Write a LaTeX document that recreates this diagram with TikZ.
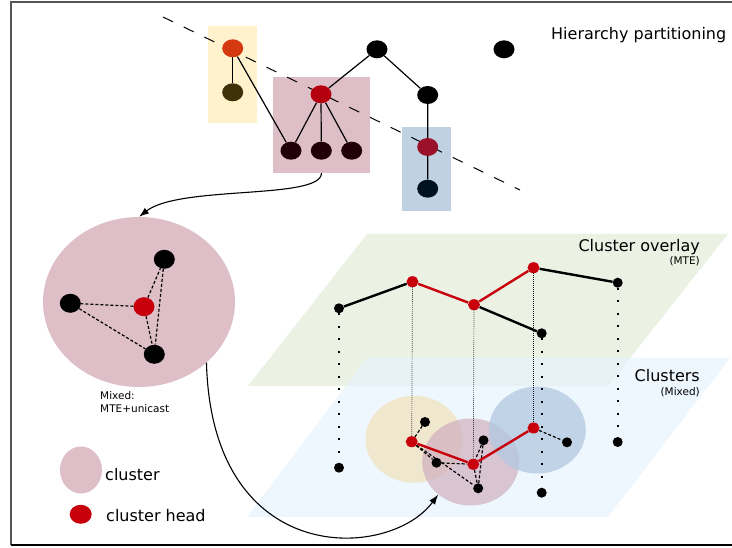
\documentclass[tikz,border=0pt]{standalone}
\usepackage{fontspec}
\setmainfont{DejaVu Sans}
\usetikzlibrary{shapes.geometric,arrows.meta}
\definecolor{ylwbox}{HTML}{FFF2CC}
\definecolor{pinkcl}{HTML}{DEBFC8}
\definecolor{bluebox}{HTML}{C0D2E2}
\definecolor{greenpl}{HTML}{EBF1E3}
\definecolor{bluepl}{HTML}{E8F3FD}
\definecolor{ylwcl}{HTML}{F0E2BE}
\definecolor{pinkcl2}{HTML}{D2B3C2}
\definecolor{bluecl}{HTML}{B2C9E0}
\definecolor{headred}{HTML}{C8000C}
\definecolor{framegray}{HTML}{555555}
\begin{document}
\begin{tikzpicture}[x=1pt,y=-1pt,
  hnode/.style={ellipse,inner sep=0pt,minimum width=21pt,minimum height=18pt,fill=black},
  cnode/.style={ellipse,inner sep=0pt,minimum width=21pt,minimum height=19pt,fill=black},
  pt/.style={circle,inner sep=0pt,minimum size=10pt,fill=black},
  hd/.style={ellipse,inner sep=0pt,minimum width=12pt,minimum height=11pt,fill=headred},
  tree/.style={line width=1.2pt},
  link/.style={line width=1.2pt,dash pattern=on 3pt off 2pt},
  drop/.style={line width=0.7pt,dash pattern=on 0.8pt off 1.2pt},
  sparse/.style={line width=1.8pt,dash pattern=on 1.8pt off 10.7pt},
  ovl/.style={line width=2.4pt},
  blob/.style={ellipse,inner sep=0pt,minimum width=97pt,minimum height=87pt,fill opacity=0.75},
  bigtxt/.style={font=\fontsize{16}{19}\selectfont,inner sep=0pt},
  smtxt/.style={font=\fontsize{10.5}{12}\selectfont,inner sep=0pt},
]
\useasboundingbox (0,0) rectangle (732,548);
% frame
\draw[framegray,line width=2pt] (732,2) -- (11,2) -- (11,545);
\draw[black,line width=2pt] (11,545) -- (732,545);

% hierarchy
\node[fill=ylwbox,minimum width=49pt,minimum height=97pt] (ybox) at (232.5,74.5) {};
\node[fill=pinkcl,minimum width=97pt,minimum height=96pt] (pbox) at (321.5,125) {};
\node[fill=bluebox,minimum width=49pt,minimum height=84pt] (bbox) at (426.5,169) {};
\draw[line width=1pt,dash pattern=on 11pt off 12pt] (163,17) -- (520,190);

\node[hnode,fill={rgb,255:red,213;green,57;blue,15}] (y1) at (232.7,48.3) {};
\node[hnode,fill={rgb,255:red,61;green,50;blue,8}] (y2) at (232.7,92.3) {};
\node[hnode,fill={rgb,255:red,181;green,0;blue,15}] (ph) at (321,94.3) {};
\foreach \i/\x in {1/291,2/321.3,3/351.7}
  \node[hnode,fill={rgb,255:red,35;green,0;blue,8}] (pc\i) at (\x,150.7) {};
\node[hnode] (top) at (377,49.3) {};
\node[hnode] (far) at (504,49.3) {};
\node[hnode] (mid) at (427.7,95) {};
\node[hnode,fill={rgb,255:red,154;green,18;blue,41}] (bh) at (427.7,147) {};
\node[hnode,fill={rgb,255:red,0;green,17;blue,31}] (bb) at (427.7,188.7) {};

\draw[tree] (y1) -- (y2);
\draw[tree] (y1) -- (pc1);
\foreach \i in {1,2,3} \draw[tree] (ph) -- (pc\i);
\draw[tree] (top) -- (ph);
\draw[tree] (top) -- (mid) -- (bh) -- (bb);

\node[bigtxt,anchor=west] (hlbl) at (551,35) {Hierarchy partitioning};

% zoomed cluster
\node[ellipse,fill=pinkcl,inner sep=0pt,minimum width=192pt,minimum height=170pt] (bigcl) at (139,302) {};
\node[cnode] (b1) at (164.3,259.3) {};
\node[cnode] (b2) at (70.3,303.3) {};
\node[cnode] (b3) at (154.3,354.3) {};
\node[cnode,fill=headred] (bh0) at (144,306.7) {};
\draw[link] (bh0) -- (b1);
\draw[link] (bh0) -- (b2);
\draw[link] (bh0) -- (b3);
\draw[link] (b2) -- (b3);
\draw[link] (b1) -- (b3);
\node[font=\fontsize{10.5}{13}\selectfont,align=left,anchor=north west,inner sep=0pt] (mixlbl) at (100,391) {Mixed:\\MTE+unicast};

\draw[line width=1.1pt,-{Latex[length=10pt,width=7pt]}] (pbox.south) .. controls (321,200) and (180,185) .. (bigcl.north);

% planes
\fill[greenpl] (248,386) -- (608,386) -- (728,234) -- (367,234) -- cycle;
\fill[bluepl,opacity=0.7] (247,517) -- (608,517) -- (730,358) -- (367,358) -- cycle;
\node[bigtxt,anchor=base east] (ovlbl) at (700,251.5) {Cluster overlay};
\node[smtxt,anchor=base east] (mtelbl) at (700,264.5) {(MTE)};
\node[bigtxt,anchor=base east] (cllbl) at (700,382) {Clusters};
\node[smtxt,anchor=base east] (mixdlbl) at (700,395.5) {(Mixed)};

% clusters
\node[blob,fill=ylwcl] (ycl) at (414,439.3) {};
\node[blob,fill=pinkcl2] (pcl) at (470.7,462) {};
\node[blob,fill=bluecl] (bcl) at (537.3,430) {};

% overlay nodes
\node[pt] (o1) at (339,308.3) {};
\node[hd] (o2) at (412.5,281.7) {};
\node[hd] (o3) at (474,304.7) {};
\node[hd] (o4) at (533.5,267.7) {};
\node[pt] (o5) at (541.7,333.3) {};
\node[pt] (o6) at (617.7,282.7) {};
% cluster nodes
\node[pt] (c1) at (339,467.7) {};
\node[pt] (c2) at (617.7,442) {};
\node[pt] (c3) at (541.7,492.7) {};
\node[hd] (yh) at (411.7,441.7) {};
\node[hd] (ph2) at (473.3,464.3) {};
\node[hd] (bh2) at (533.5,428) {};
\node[pt] (k1) at (425,422) {};
\node[pt] (k2) at (436.5,462.7) {};
\node[pt] (k3) at (483.5,440.3) {};
\node[pt] (k4) at (478.2,488.3) {};
\node[pt] (k5) at (567,442.3) {};

\draw[sparse] (o1) -- (c1);
\draw[sparse] (o5) -- (c3);
\draw[sparse] (o6) -- (c2);
\draw[drop] (o2) -- (yh);
\draw[drop] (o3) -- (ph2);
\draw[drop] (o4) -- (bh2);

\draw[ovl] (o1) -- (o2);
\draw[ovl,headred] (o2) -- (o3) -- (o4);
\draw[ovl] (o4) -- (o6);
\draw[ovl] (o3) -- (o5);

\draw[link] (yh) -- (k1);
\draw[link] (yh) -- (k2);
\draw[link] (yh) -- (k4);
\draw[link] (k2) -- (ph2);
\draw[link] (k3) -- (ph2);
\draw[link] (k3) -- (k4);
\draw[link] (ph2) -- (k4);
\draw[link] (bh2) -- (k5);
\draw[ovl,headred] (yh) -- (ph2) -- (bh2);

\draw[line width=1.1pt,-{Latex[length=10pt,width=7pt]}] (bigcl.-42) .. controls (212,570) and (390,560) .. (pcl.225);

% legend
\node[ellipse,fill=pinkcl,inner sep=0pt,minimum width=42pt,minimum height=47pt] (lgcl) at (81,470) {};
\node[ellipse,fill=headred,inner sep=0pt,minimum width=22pt,minimum height=19pt] (lghd) at (80.7,514.3) {};
\node[bigtxt,anchor=base west] (lgcltxt) at (105,480) {cluster};
\node[bigtxt,anchor=base west] (lghdtxt) at (106,521.7) {cluster head};
\end{tikzpicture}
\end{document}
